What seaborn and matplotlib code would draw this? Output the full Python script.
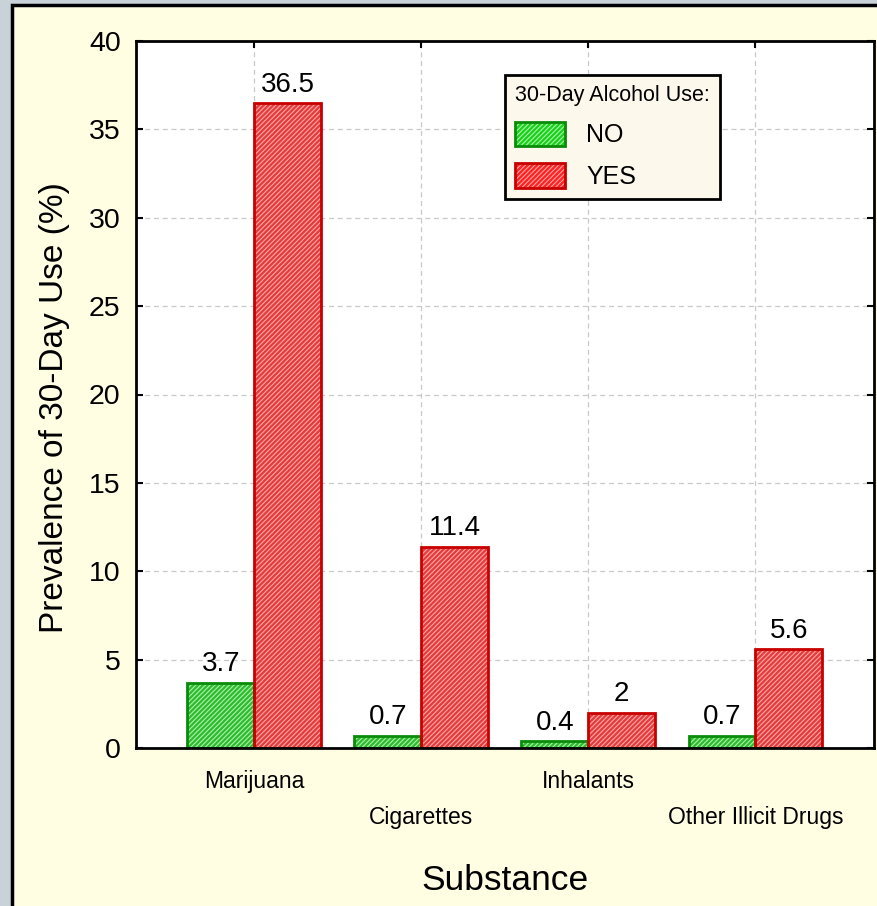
import numpy as np
import pandas as pd
import matplotlib
matplotlib.use("Agg")
import matplotlib.pyplot as plt
import seaborn as sns
from matplotlib.patches import Patch, Rectangle
from matplotlib.legend_handler import HandlerTuple

# --- Daten ---
substances = ["Marijuana", "Cigarettes", "Inhalants", "Other Illicit Drugs"]
alcohol_no = [3.7, 0.7, 0.4, 0.7]
alcohol_yes = [36.5, 11.4, 2.0, 5.6]
value_labels_no = ["3.7", "0.7", "0.4", "0.7"]
value_labels_yes = ["36.5", "11.4", "2", "5.6"]
groups = ["NO", "YES"]

df = pd.DataFrame({
    "Substance": substances * 2,
    "Alcohol": ["NO"] * 4 + ["YES"] * 4,
    "Prevalence": alcohol_no + alcohol_yes,
})

FACE = {"NO": "#1ccf1c", "YES": "#ff2020"}
HATCH_COL = {"NO": "#a6f5a6", "YES": "#ffa6a6"}
EDGE = {"NO": "#0a8c0a", "YES": "#c80000"}
HATCH = "///////"

sns.set_style("ticks")
plt.rcParams["font.family"] = ["Liberation Sans", "DejaVu Sans"]
plt.rcParams["hatch.linewidth"] = 0.8
for key in ["text.color", "axes.labelcolor", "xtick.color", "ytick.color"]:
    plt.rcParams[key] = "black"

fig = plt.figure(figsize=(8.77, 9.06), dpi=100)
fig.patch.set_facecolor("#c9d2d9")
fig.patches.append(Rectangle((12 / 877, -0.01), 1.0, 1 - 5 / 906 + 0.01,
                             transform=fig.transFigure, facecolor="#fffde2",
                             edgecolor="black", linewidth=2.5, zorder=-5))

ax = fig.add_axes([136 / 877, 1 - 748 / 906, 738 / 877, 707 / 906])
ax.set_facecolor("white")

# Füllung mit heller Schraffur
sns.barplot(data=df, x="Substance", y="Prevalence", hue="Alcohol",
            hue_order=groups, order=substances, palette=FACE,
            edgecolor="white", linewidth=0, hatch=HATCH,
            legend=False, ax=ax, zorder=2)
for j, bar in enumerate(ax.patches):
    bar.set_edgecolor(HATCH_COL[groups[j // len(substances)]])
    bar.set_linewidth(0)
# Rahmen der Balken
sns.barplot(data=df, x="Substance", y="Prevalence", hue="Alcohol",
            hue_order=groups, order=substances, palette=EDGE,
            fill=False, linewidth=2, legend=False, ax=ax, zorder=3)

# Werte über den Balken
for i in range(len(substances)):
    ax.text(i - 0.2, alcohol_no[i] + 0.3, value_labels_no[i],
            ha="center", va="bottom", fontsize=20)
    ax.text(i + 0.2, alcohol_yes[i] + 0.3, value_labels_yes[i],
            ha="center", va="bottom", fontsize=20)

ax.set_xlim(-0.707, 3.71)
ax.set_ylim(0, 40)
ax.set_yticks(np.arange(0, 41, 5))
ax.set_xticks(range(len(substances)))
ax.set_xticklabels(substances, fontsize=16.5)
ax.tick_params(axis="y", labelsize=20.5, pad=11)
ax.tick_params(direction="in", length=5, width=1.5, top=True, right=True)
for i, tick in enumerate(ax.xaxis.get_major_ticks()):
    tick.set_pad(16 if i % 2 == 0 else 42)

ax.grid(True, linestyle=(0, (4, 3)), color="#c8c8c8", linewidth=0.9)
ax.set_axisbelow(True)
for sp in ax.spines.values():
    sp.set_linewidth(2)
    sp.set_color("black")
    sp.set_zorder(5)

ax.set_xlabel("Substance", fontsize=25.5, labelpad=25)
ax.set_ylabel("Prevalence of 30-Day Use (%)", fontsize=24, labelpad=14)
ax.yaxis.label.set_y(0.481)

# Legende
handles = []
for g in groups:
    fill = Patch(facecolor=FACE[g], edgecolor=HATCH_COL[g], linewidth=0, hatch=HATCH)
    frame = Patch(facecolor="none", edgecolor=EDGE[g], linewidth=2)
    handles.append((fill, frame))
leg = ax.legend(handles, groups, title="30-Day Alcohol Use:",
                handler_map={tuple: HandlerTuple(ndivide=1)},
                loc="upper left", bbox_to_anchor=(505 / 877, 1 - 75 / 906),
                bbox_transform=fig.transFigure, borderaxespad=0,
                fontsize=18, title_fontsize=15.5,
                frameon=True, fancybox=False, framealpha=1,
                handlelength=2.0, handleheight=1.15, labelspacing=0.62,
                handletextpad=0.85, borderpad=0.4, alignment="left")
leg.get_frame().set_facecolor("#fdf8ec")
leg.get_frame().set_edgecolor("black")
leg.get_frame().set_linewidth(2)
leg.set_zorder(10)

fig.savefig("out.png", dpi=100, facecolor=fig.get_facecolor())
